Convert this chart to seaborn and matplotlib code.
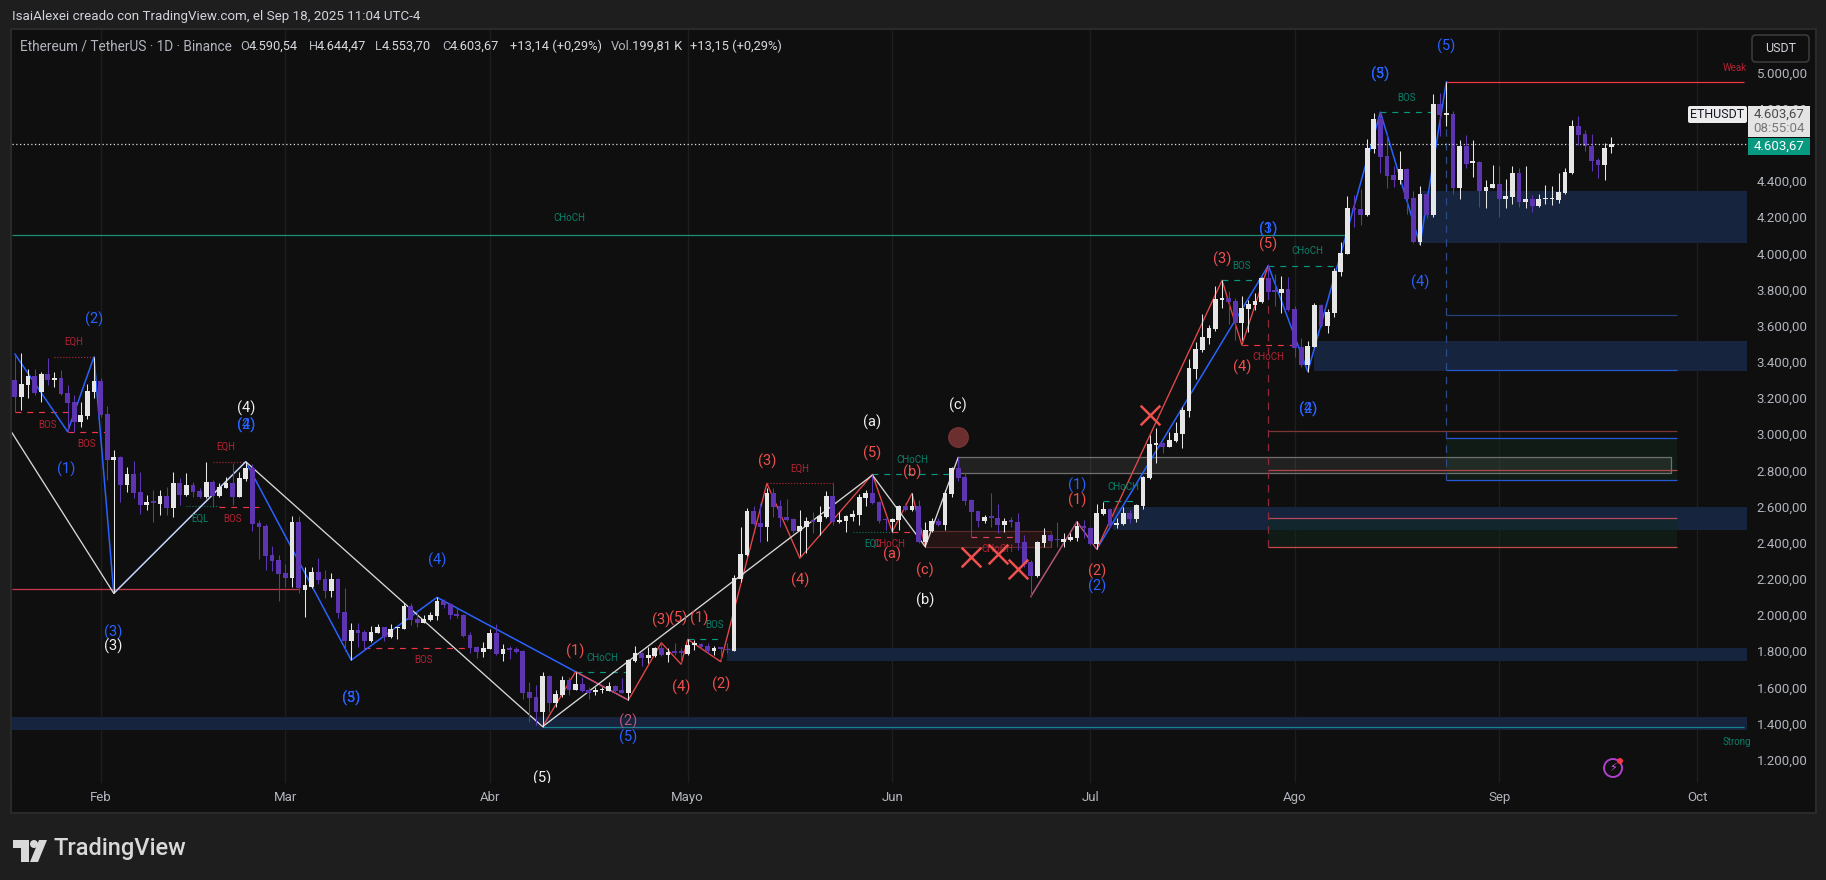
import numpy as np
import seaborn as sns
import matplotlib.pyplot as plt
from matplotlib.patches import Rectangle, FancyBboxPatch, Polygon, Circle

sns.set_theme(style="dark")
plt.rcParams['font.family'] = ['Roboto', 'DejaVu Sans']

# daily candles, Jan 19 to Sep 18 2025, x is days after Feb 1
first_day = -13

opens = [3300,3208,3272,3322,3233,3333,3302,3311,3226,3178,3068,3101,3235,
    3294,3112,2858,2874,2719,2778,2681,2607,2623,2614,2658,2594,2728,2664,2717,2686,2651,2734,2658,2703,2728,2653,2752,2813,2509,2493,2332,2305,
    2231,2203,2517,2138,2157,2240,2199,2133,2199,2017,1856,1917,1904,1856,1902,1934,1878,1926,1923,2050,1978,1956,1972,1994,2079,2063,2006,2000,1889,1823,1794,
    1812,1900,1784,1812,1814,1801,1574,1547,1464,1663,1512,1556,1641,1585,1619,1585,1576,1583,1582,1608,1586,1571,1748,1790,1761,1774,1818,1781,1794,1794,
    1786,1836,1840,1827,1803,1816,1809,1803,2199,2334,2575,2507,2489,2677,2603,2542,2529,2465,2489,2520,2516,2544,2658,2516,2522,2544,2553,2649,2677,2625,2526,
    2516,2526,2603,2581,2603,2406,2465,2520,2498,2669,2813,2763,2636,2575,2520,2540,2537,2498,2518,2515,2404,2293,2216,2400,2441,2415,2406,2417,2426,2492,
    2483,2393,2559,2586,2498,2504,2564,2531,2603,2756,2940,2951,2931,2963,3001,3130,3361,3466,3532,3582,3742,3751,3735,3615,3692,3713,3731,3862,3790,3781,3803,
    3692,3482,3383,3482,3714,3598,3670,3897,3996,4251,4245,4212,4577,4743,4538,4433,4405,4466,4306,4063,4328,4212,4826,4767,4770,4361,4593,4501,4505,4345,4361,
    4383,4300,4311,4444,4284,4300,4262,4298,4298,4295,4333,4444,4704,4660,4593,4516,4488,4590.54]
highs = [3444,3447,3361,3361,3342,3420,3342,3355,3272,3217,3176,3276,3429,
    3309,3156,2913,2880,2821,2852,2791,2664,2692,2692,2710,2791,2756,2784,2738,2701,2846,2747,2728,2762,2839,2793,2848,2835,2526,2504,2382,2332,
    2282,2548,2550,2267,2267,2313,2249,2234,2203,2147,1954,1954,1917,1939,1950,1936,1950,1936,2065,2065,2028,2000,2015,2098,2087,2068,2037,2006,1908,1829,1849,
    1923,1950,1840,1829,1821,1806,1631,1613,1687,1668,1585,1663,1659,1687,1659,1604,1604,1600,1630,1613,1650,1755,1829,1798,1825,1825,1847,1816,1844,1816,
    1866,1862,1844,1844,1829,1820,1844,2221,2489,2594,2603,2618,2701,2701,2636,2640,2535,2581,2544,2572,2603,2686,2728,2568,2552,2581,2669,2691,2774,2630,2538,
    2539,2607,2618,2673,2636,2516,2535,2535,2692,2821,2872,2784,2640,2577,2553,2673,2614,2535,2540,2563,2443,2305,2410,2480,2443,2516,2456,2456,2520,2526,
    2487,2614,2623,2590,2535,2596,2581,2612,2770,2996,3033,2955,3010,3069,3149,3414,3512,3665,3604,3820,3853,3792,3755,3764,3742,3783,3871,3940,3886,3875,3867,
    3709,3530,3515,3727,3718,3690,3917,4065,4317,4322,4356,4630,4778,4781,4663,4483,4566,4470,4345,4372,4335,4881,4885,4950,4787,4627,4654,4627,4510,4405,4488,
    4483,4411,4483,4472,4483,4322,4328,4378,4372,4444,4472,4737,4759,4682,4660,4527,4610,4644.47]
lows = [3121,3134,3202,3217,3180,3272,3263,3217,3014,3014,3042,3084,3198,
    3097,2747,2120,2627,2679,2646,2559,2581,2517,2553,2553,2544,2609,2658,2655,2646,2646,2596,2651,2701,2609,2651,2743,2467,2312,2249,2246,2076,
    2157,2157,2120,1991,2147,2171,2092,2101,1982,1803,1751,1825,1807,1853,1899,1858,1873,1867,1923,1945,1936,1954,1969,1972,2037,1976,1982,1880,1792,1764,1766,
    1810,1779,1746,1757,1792,1534,1410,1392,1383,1466,1493,1548,1558,1585,1576,1536,1558,1571,1580,1567,1567,1530,1742,1720,1737,1770,1774,1742,1779,1733,
    1779,1807,1820,1788,1779,1748,1792,1800,2185,2328,2498,2406,2411,2544,2489,2520,2452,2327,2341,2452,2443,2535,2498,2511,2461,2520,2498,2605,2612,2507,2470,
    2461,2470,2577,2577,2397,2378,2461,2492,2470,2651,2739,2609,2430,2485,2511,2489,2452,2461,2489,2360,2268,2102,2212,2375,2378,2378,2378,2411,2411,2424,
    2387,2363,2555,2485,2483,2498,2507,2516,2586,2751,2839,2894,2927,2959,2926,3097,3305,3456,3499,3573,3696,3609,3521,3521,3567,3687,3727,3746,3709,3672,3683,
    3425,3370,3346,3480,3595,3558,3646,3877,3996,4147,4157,4208,4553,4442,4361,4368,4383,4217,4055,4048,4195,4201,4649,4704,4328,4300,4472,4422,4256,4251,4359,
    4201,4251,4273,4256,4251,4228,4258,4273,4267,4278,4328,4440,4599,4566,4455,4416,4405,4553.70]
closes = [3208,3278,3322,3230,3333,3300,3311,3222,3175,3069,3106,3239,3294,
    3106,2858,2874,2719,2778,2677,2609,2623,2621,2658,2594,2728,2664,2717,2681,2651,2734,2658,2708,2730,2655,2758,2813,2504,2489,2327,2301,2227,
    2207,2517,2150,2166,2240,2194,2133,2199,2009,1856,1917,1902,1856,1906,1934,1876,1923,1928,2050,1972,1956,1976,2000,2079,2057,2000,1994,1884,1819,1794,1818,
    1902,1784,1812,1808,1797,1567,1541,1464,1663,1512,1563,1641,1585,1619,1580,1571,1578,1586,1608,1578,1571,1751,1788,1764,1779,1818,1779,1796,1792,1792,
    1833,1838,1823,1801,1818,1814,1807,2203,2338,2575,2503,2487,2677,2599,2537,2526,2465,2492,2520,2516,2548,2658,2516,2518,2548,2559,2651,2677,2618,2520,2524,
    2531,2603,2581,2603,2406,2470,2520,2498,2673,2813,2760,2633,2572,2520,2542,2538,2498,2520,2516,2400,2282,2216,2406,2441,2411,2413,2421,2432,2492,2480,
    2393,2564,2586,2494,2507,2564,2531,2609,2765,2946,2951,2931,2968,3007,3134,3366,3471,3538,3587,3748,3751,3733,3613,3696,3718,3737,3866,3786,3788,3803,3687,
    3479,3383,3488,3714,3598,3676,3902,4002,4251,4240,4212,4582,4743,4533,4427,4405,4466,4300,4063,4328,4212,4826,4765,4770,4361,4593,4494,4505,4345,4367,4383,
    4300,4317,4444,4284,4300,4262,4300,4300,4300,4339,4450,4704,4654,4593,4510,4488,4582,4603.67]

month_days = [0, 28, 59, 89, 120, 150, 181, 212, 242]
month_names = ['Feb', 'Mar', 'Abr', 'Mayo', 'Jun', 'Jul', 'Ago', 'Sep', 'Oct']
# 4600 sits under the price badges, so it gets no tick
price_ticks = [1200, 1400, 1600, 1800, 2000, 2200, 2400, 2600, 2800, 3000, 3200, 3400, 3600, 3800, 4000, 4200, 4400, 4800, 5000]

# zigzags, (day, price)
white_days = [-13.43, 2, 22, 67, 117, 125, 130]
white_prices = [3008, 2120, 2848, 1383, 2774, 2378, 2872]
blue_days = [-13, -5, -1, 2, 22, 38, 51, 80]
blue_prices = [3444, 3014, 3429, 2120, 2848, 1751, 2098, 1530]
blue2_days = [151, 177, 183, 194, 200, 204]
blue2_prices = [2364, 3932, 3346, 4781, 4048, 4950]
red_days = [67, 72, 80, 85, 88, 89, 94, 101, 106, 117, 120, 123, 125]
red_prices = [1383, 1687, 1530, 1847, 1728, 1866, 1742, 2728, 2314, 2778, 2461, 2673, 2378]
red2_days = [151, 170, 173, 177]
red2_prices = [2364, 3851, 3493, 3932]
pink_days = [141, 148, 151]
pink_prices = [2102, 2516, 2364]

# solid levels: price, from day, to day, colour
levels = [
    (4100, -13.43, 188.8, '#1b8f78'),
    (2142, -13.43, 30, '#c9384a'),
    (4946, 204, 249.1, '#f23645'),
    (1379, 67, 249.1, '#17828c'),
    (3657, 204, 239, '#25407f'),
    (3353, 204, 239, '#2459d8'),
    (2977, 204, 239, '#2459d8'),
    (2745, 204, 239, '#2459d8'),
    (3016, 177, 239, '#7c3636'),
    (2800, 177, 239, '#b04848'),
    (2535, 177, 239, '#b84a60'),
    (2374, 177, 239, '#c94a4a'),
]
# dashed and dotted levels: price, from day, to day, colour, style
dashes = [
    (3121, -13, -5, '#f23645', 'dash'), (3011, -5, 2, '#f23645', 'dash'),
    (2596, 18, 24, '#f23645', 'dash'), (1816, 40, 56, '#f23645', 'dash'),
    (2457, 120, 125, '#f23645', 'dash'), (2430, 132, 139, '#d8485a', 'dash'),
    (3491, 173, 181, '#f23645', 'dash'),
    (1687, 72, 80, '#089981', 'dash'), (1866, 89, 94, '#089981', 'dash'),
    (2778, 117, 129, '#089981', 'dash'), (2629, 152, 157, '#089981', 'dash'),
    (3851, 170, 176, '#089981', 'dash'), (3932, 177, 187, '#089981', 'dash'),
    (4780, 194, 202, '#089981', 'dash'),
    (3425, -7, -1, '#a8283a', 'dot'), (2846, 17, 22, '#a8283a', 'dot'),
    (2728, 101, 111, '#a8283a', 'dot'), (2602, 13, 18, '#0b6e5c', 'dot'),
    (2458, 114, 120, '#0b6e5c', 'dot'),
]
# zones: day from, day to, price low, price high
navy_zones = [
    (-13.43, 249.57, 1365, 1436),
    (95, 249.57, 1745, 1819),
    (153.5, 249.57, 2470, 2596),
    (184, 249.57, 3350, 3515),
    (200.2, 249.57, 4059, 4345),
]

wave_labels = [
    ('(2)', -1, 3637, 'b'), ('(1)', -5.2, 2807, 'b'), ('(2)', 22, 3051, 'b'), ('(4)', 22, 3051, 'b'),
    ('(4)', 22, 3141, 'w'), ('(3)', 1.9, 1906, 'b'), ('(3)', 1.9, 1828, 'w'), ('(3)', 38, 1542, 'b'),
    ('(5)', 38, 1542, 'b'), ('(4)', 51, 2304, 'b'), ('(5)', 67, 1095, 'w'), ('(1)', 72, 1801, 'r'),
    ('(2)', 80, 1410, 'p'), ('(5)', 80, 1324, 'b'), ('(3)', 85, 1969, 'r'), ('(5)', 87.5, 1980, 'r'),
    ('(1)', 90.7, 1980, 'r'), ('(4)', 88, 1600, 'r'), ('(2)', 94, 1618, 'r'), ('(3)', 101, 2852, 'r'),
    ('(4)', 106, 2194, 'r'), ('(5)', 117, 2894, 'r'), ('(a)', 117, 3065, 'w'), ('(b)', 123, 2789, 'r'),
    ('(a)', 120, 2336, 'r'), ('(c)', 125, 2249, 'r'), ('(b)', 125, 2083, 'w'), ('(c)', 130, 3161, 'w'),
    ('(2)', 151, 2243, 'r'), ('(2)', 151, 2160, 'b'), ('(1)', 148, 2715, 'b'), ('(1)', 148, 2632, 'r'),
    ('(3)', 170, 3967, 'r'), ('(4)', 173, 3370, 'r'), ('(5)', 177, 4050, 'r'), ('(3)', 177, 4134, 'b'),
    ('(1)', 177, 4134, 'b'), ('(2)', 183, 3137, 'b'), ('(4)', 183, 3137, 'b'), ('(3)', 194, 4989, 'b'),
    ('(5)', 194, 4989, 'b'), ('(5)', 204, 5147, 'b'), ('(4)', 200, 3840, 'b'),
]
small_labels = [
    ('EQH', -4, 3511, 'r'), ('BOS', -8, 3051, 'r'), ('BOS', -2.2, 2946, 'r'), ('EQH', 19, 2929, 'r'),
    ('EQL', 15, 2531, 't'), ('BOS', 20, 2531, 'r'), ('BOS', 49, 1751, 'r'), ('CHoCH', 76, 1762, 't'),
    ('BOS', 93, 1944, 't'), ('EQH', 106, 2807, 'r'), ('CHoCH', 123, 2857, 't'), ('EQL', 117, 2396, 't'),
    ('CHoCH', 119.5, 2392, 'r'), ('CHoCH', 136, 2365, 'r'), ('CHoCH', 155, 2706, 't'), ('BOS', 173, 3930, 't'),
    ('CHoCH', 183, 4013, 't'), ('CHoCH', 177, 3427, 'r'), ('BOS', 198, 4857, 't'), ('CHoCH', 71, 4195, 't'),
    ('Weak', 247.7, 5025, 'r'), ('Strong', 248, 1300, 't'),
]
cross_days = [132, 136, 139, 159]
cross_prices = [2320, 2337, 2254, 3106]

label_colors = {'b': '#2962ff', 'w': '#f0f0f0', 'r': '#f0504f', 'p': '#b8567c', 't': '#0b7f6a'}
small_colors = {'r': '#b32233', 't': '#0b7f6a'}

W, H = 1826, 880
fig = plt.figure(figsize=(W / 100, H / 100), dpi=100, facecolor='#1e1e1e')

# chart pane behind everything, in pixels
back = fig.add_axes([0, 0, 1, 1], zorder=0)
back.set_xlim(0, W)
back.set_ylim(H, 0)
back.axis('off')
back.add_patch(Rectangle((11, 29), 1805, 784, fc='#0f0f0f', ec='#2a2a2a', lw=1.5))

ax = fig.add_axes([12 / W, 1 - 783 / H, (1747 - 12) / W, (783 - 30) / H], zorder=1)
ax.set_facecolor('#0f0f0f')
ax.set_xlim(-13.43, 249.57)
ax.set_ylim(1071.4, 5235)
for s in ax.spines.values():
    s.set_visible(False)

ax.set_xticks(month_days, month_names)
ax.set_yticks(price_ticks, [f'{v:,.2f}'.replace(',', '#').replace('.', ',').replace('#', '.') for v in price_ticks])
ax.yaxis.tick_right()
ax.tick_params(axis='x', length=0, pad=6, labelsize=9.5, labelcolor='#b2b5be')
ax.tick_params(axis='y', length=0, pad=7, labelsize=9.5, labelcolor='#b2b5be')
ax.grid(axis='x', color='#1e1e1e', lw=1)
ax.grid(axis='y', visible=False)
ax.set_axisbelow(True)

for d0, d1, p0, p1 in navy_zones:
    ax.add_patch(Rectangle((d0, p0), d1 - d0, p1 - p0, fc='#16243d', ec='none', zorder=1))

# green risk boxes and the grey and dark red order blocks
ax.add_patch(Rectangle((204, 2745), 35, 232, fc='#0f2a1c', ec='none', alpha=0.45, zorder=1.2))
ax.add_patch(Rectangle((177, 2374), 62, 161, fc='#0f2a1c', ec='none', alpha=0.45, zorder=1.2))
ax.add_patch(Rectangle((130, 2783), 108, 89, fc='#ffffff', alpha=0.08, ec='none', zorder=1.3))
ax.add_patch(Rectangle((130, 2783), 108, 89, fc='none', ec='#707070', lw=0.9, zorder=1.4))
ax.add_patch(Rectangle((125, 2378), 19, 85, fc='#241414', ec='#5c2a2a', lw=0.9, zorder=1.3))

for p, d0, d1, c in levels:
    ax.hlines(p, d0, d1, color=c, lw=0.9, zorder=2)
for p, d0, d1, c, st in dashes:
    ls = (0, (5, 5)) if st == 'dash' else (0, (1, 1.5))
    ax.hlines(p, d0, d1, color=c, lw=0.85, ls=ls, zorder=2)

ax.vlines(177, 2374, 3932, color='#8c2a3a', lw=0.9, ls=(0, (6, 5)), zorder=2)
ax.vlines(204, 2745, 4946, color='#2a4a8a', lw=0.9, ls=(0, (6, 5)), zorder=2)

# zigzags go through seaborn
wave_kw = dict(sort=False, estimator=None, legend=False, ax=ax, zorder=3)
sns.lineplot(x=blue_days, y=blue_prices, color='#2962ff', lw=1.1, **wave_kw)
sns.lineplot(x=blue2_days, y=blue2_prices, color='#2962ff', lw=1.1, **wave_kw)
sns.lineplot(x=red_days, y=red_prices, color='#e8484a', lw=0.95, **wave_kw)
sns.lineplot(x=red2_days, y=red2_prices, color='#e8484a', lw=0.95, **wave_kw)
sns.lineplot(x=pink_days, y=pink_prices, color='#b8567c', lw=1.05, **wave_kw)
sns.lineplot(x=white_days, y=white_prices, color='#d8d8d8', lw=0.95, **wave_kw)
ax.set_xlabel('')
ax.set_ylabel('')

# candles
days = np.arange(len(opens)) + first_day
o, h, l, c = map(np.array, (opens, highs, lows, closes))
up = c >= o
candle_colors = np.where(up, '#e6e6e6', '#5e35b1')
ax.vlines(days, l, h, colors=candle_colors, lw=0.75, zorder=4)
body_low = np.minimum(o, c)
body_height = np.maximum(np.abs(c - o), 8)
ax.bar(days, body_height, bottom=body_low, width=0.72, color=candle_colors, lw=0, zorder=5)

# current price
ax.axhline(4603.67, color='#e0e0e0', lw=0.9, ls=(0, (1, 2)), zorder=6)

for txt, d, p, k in wave_labels:
    ax.text(d, p, txt, color=label_colors[k], fontsize=10.5, ha='center', va='center', zorder=7, clip_on=True)
for txt, d, p, k in small_labels:
    ax.text(d, p, txt, color=small_colors[k], fontsize=7, ha='center', va='center', zorder=7)

ax.scatter(cross_days, cross_prices, marker='x', s=200, color='#f0504f', linewidths=1.8, zorder=7)
ax.scatter([130], [2983], s=200, color='#6b2f2f', edgecolors='#7d3535', linewidths=0.8, zorder=7)

# header, badges and footer, in pixels
front = fig.add_axes([0, 0, 1, 1], zorder=2)
front.set_xlim(0, W)
front.set_ylim(H, 0)
front.axis('off')
front.patch.set_alpha(0)

front.text(11.5, 16.5, 'IsaiAlexei creado con TradingView.com, el Sep 18, 2025 11:04 UTC-4', color='#d1d4dc', fontsize=9.6, va='center')
dim, bright = '#b2b5be', '#d8dae0'
front.text(20, 46.5, 'Ethereum / TetherUS · 1D · Binance', color=dim, fontsize=9.8, va='center')
for x, letter, x2, val in [(240.5, 'O', 248.5, '4.590,54'), (308.5, 'H', 316.5, '4.644,47'), (375.5, 'L', 381.5, '4.553,70'), (442, 'C', 450, '4.603,67')]:
    front.text(x, 46.5, letter, color=dim, fontsize=9.3, va='center')
    front.text(x2, 46.5, val, color=bright, fontsize=9.3, va='center')
front.text(510, 46.5, '+13,14 (+0,29%)', color=bright, fontsize=9.3, va='center')
front.text(611, 46.5, 'Vol.', color=dim, fontsize=9.3, va='center')
front.text(632, 46.5, '199,81 K', color=bright, fontsize=9.3, va='center')
front.text(690, 46.5, '+13,15 (+0,29%)', color=bright, fontsize=9.3, va='center')

front.add_patch(FancyBboxPatch((1752, 35), 57, 27, boxstyle='round,pad=0,rounding_size=4', fc='#0f0f0f', ec='#3a3a3a', lw=1.2))
front.text(1780.5, 48.5, 'USDT', color='#d1d4dc', fontsize=9, ha='center', va='center')

front.add_patch(FancyBboxPatch((1688, 106), 59, 17, boxstyle='round,pad=0,rounding_size=2', fc='#ececec', ec='none'))
front.text(1717.5, 114.5, 'ETHUSDT', color='#131722', fontsize=9, ha='center', va='center')
front.add_patch(Rectangle((1748, 106), 62, 31, fc='#e4e4e4', ec='none'))
front.text(1779, 114, '4.603,67', color='#4a4a4a', fontsize=9.5, ha='center', va='center')
front.text(1779, 128, '08:55:04', color='#787878', fontsize=9.5, ha='center', va='center')
front.add_patch(Rectangle((1748, 138), 62, 17, fc='#089981', ec='none'))
front.text(1779, 146, '4.603,67', color='#ffffff', fontsize=9.5, ha='center', va='center')

# lightning badge
front.add_patch(Circle((1613, 768), 9, fc='none', ec='#b03fd0', lw=1.4))
front.text(1613, 768, '⚡', color='#d060e0', fontsize=8, ha='center', va='center')
front.add_patch(Circle((1620, 761), 3, fc='#f23645', ec='none'))

# TradingView logo
logo = '#d9d9d9'
front.add_patch(Polygon([(13, 840), (29, 840), (29, 862), (21, 862), (21, 848), (13, 848)], fc=logo, ec='none'))
front.add_patch(Circle((34, 844), 4, fc=logo, ec='none'))
front.add_patch(Polygon([(39, 840), (47, 840), (38, 862), (30, 862)], fc=logo, ec='none'))
front.text(54, 848, 'TradingView', color=logo, fontsize=17, fontweight='medium', va='center')

fig.savefig('out.png', dpi=100, facecolor=fig.get_facecolor())
